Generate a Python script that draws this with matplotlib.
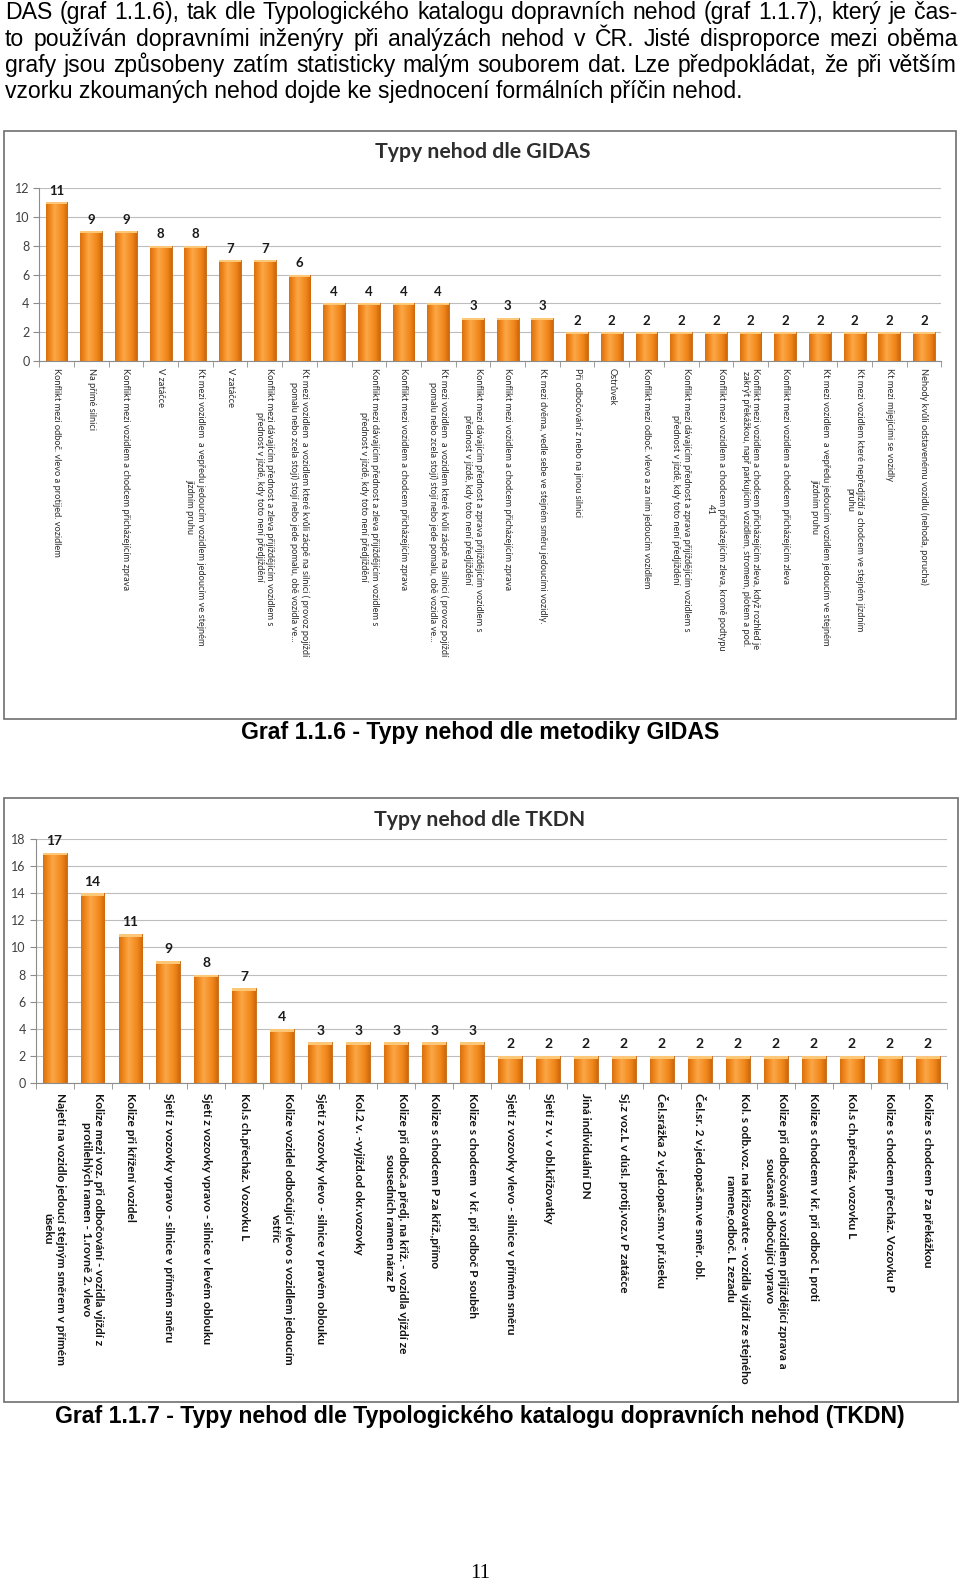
import numpy as np
import matplotlib.pyplot as plt
from matplotlib.patches import Rectangle
from matplotlib.colors import LinearSegmentedColormap

# ============================================================
# Data
# ============================================================
gidas_labels = [
    "Konflikt mezi odboč. vlevo a protijed. vozidlem",
    "Na přímé silnici",
    "Konflikt mezi vozidlem a chodcem přicházejícím zprava",
    "V zatáčce",
    "Kt mezi vozidlem  a vepředu jedoucím vozidlem jedoucím ve stejném\njízdním pruhu",
    "V zatáčce",
    "Konflikt mezi dávajícím přednost a zleva přijíždějícím vozidlem s\npřednost v jízdě, kdy toto není předjíždění",
    "Kt mezi vozidlem  a vozidlem které kvůli zácpě na silnici ( provoz pojíždí\npomalu nebo zcela stojí) stojí nebo jede pomalu, obě vozidla ve...",
    "",
    "Konflikt mezi dávajícím přednost a zleva přijíždějícím vozidlem s\npřednost v jízdě, kdy toto není předjíždění",
    "Konflikt mezi vozidlem a chodcem přicházejícím zprava",
    "Kt mezi vozidlem  a vozidlem které kvůli zácpě na silnici ( provoz pojíždí\npomalu nebo zcela stojí) stojí nebo jede pomalu, obě vozidla ve...",
    "Konflikt mezi dávajícím přednost a zprava přijíždějícím vozidlem s\npřednost v jízdě, kdy toto není předjíždění",
    "Konflikt mezi vozidlem a chodcem přicházejícím zprava",
    "Kt mezi dvěma, vedle sebe ve stejném směru jedoucími vozidly.",
    "Při odbočování z nebo na jinou silnici",
    "Ostrůvek",
    "Konflikt mezi odboč. vlevo a za ním jedoucím vozidlem",
    "Konflikt mezi dávajícím přednost a zprava přijíždějícím vozidlem s\npřednost v jízdě, kdy toto není předjíždění",
    "Konflikt mezi vozidlem a chodcem přicházejícím zleva, kromě podtypu\n41",
    "Konflikt mezi vozidlem a chodcem přicházejícím zleva, když rozhled je\nzakrýt překážkou, např parkujícím vozidlem, stromem, plotem a pod.",
    "Konflikt mezi vozidlem a chodcem přicházejícím zleva",
    "Kt mezi vozidlem  a vepředu jedoucím vozidlem jedoucím ve stejném\njízdním pruhu",
    "Kt mezi vozidlem které nepředjíždí a chodcem ve stejném jízdním\npruhu",
    "Kt mezi míjejícími se vozidly",
    "Nehody kvůli odstavenému vozidlu (nehoda, porucha)",
]
gidas_values = [11, 9, 9, 8, 8, 7, 7, 6, 4, 4, 4, 4, 3, 3, 3,
                2, 2, 2, 2, 2, 2, 2, 2, 2, 2, 2]

tkdn_labels = [
    "Najetí na vozidlo jedoucí stejným směrem v přímém\núseku",
    "Kolize mezi voz. při odbočování - vozidla vjíždí z\nprotilehlých ramen - 1.rovně 2. vlevo",
    "Kolize při křížení vozidel",
    "Sjetí z vozovky vpravo - silnice v přímém směru",
    "Sjetí z vozovky vpravo - silnice v levém oblouku",
    "Kol.s ch.přecház. Vozovku L",
    "Kolize vozidel odbočující vlevo s vozidlem jedoucím\nvstříc",
    "Sjetí z vozovky vlevo - silnice v pravém oblouku",
    "Kol.2 v. -vyjížd.od okr.vozovky",
    "Kolize při odboč.a předj. na křiž. - vozidla vjíždí ze\nsousedních ramen náraz P",
    "Kolize s chodcem P za křiž.,přímo",
    "Kolize s chodcem  v kř. při odboč P souběh",
    "Sjetí z vozovky vlevo - silnice v přímém směru",
    "Sjetí z v. v obl.křižovatky",
    "Jiná individuální DN",
    "Sj.z voz.L v dúsl. protij.voz.v P zatáčce",
    "Čel.srážka 2 v.jed.opač.sm.v př.úseku",
    "Čel.sr. 2 v.jed.opač.sm.ve směr. obl.",
    "Kol. s odb.voz. na křižovatce - vozidla vjíždí ze stejného\nramene,odboč. L zezadu",
    "Kolize při odbočování s vozidlem přijíždějící zprava a\nsoučasně odbočující vpravo",
    "Kolize s chodcem v kř. při odboč L proti",
    "Kol.s ch.přecház. vozovku L",
    "Kolize s chodcem přecház. Vozovku P",
    "Kolize s chodcem P za překážkou",
]
tkdn_values = [17, 14, 11, 9, 8, 7, 4, 3, 3, 3, 3, 3,
               2, 2, 2, 2, 2, 2, 2, 2, 2, 2, 2, 2]

paragraph = [
    "DAS (graf 1.1.6), tak dle Typologického katalogu dopravních nehod (graf 1.1.7), který je čas-",
    "to používán dopravními inženýry při analýzách nehod v ČR. Jisté disproporce mezi oběma",
    "grafy jsou způsobeny zatím statisticky malým souborem dat. Lze předpokládat, že při větším",
    "vzorku zkoumaných nehod dojde ke sjednocení formálních příčin nehod.",
]

W, H = 960, 1585
fig = plt.figure(figsize=(W / 100, H / 100), dpi=100)
fig.patch.set_facecolor('white')


def fx(x):
    return x / W


def fy(y):
    return 1 - y / H


bar_cmap = LinearSegmentedColormap.from_list(
    'bar', ['#D9700E', '#F28A1E', '#FBA748', '#F7962E', '#EE8418', '#CF680C'])
grad = np.linspace(0, 1, 64).reshape(1, -1)


def draw_chart(ax, labels, values, ymax, label_size, label_weight, label_color, value_size, pad, lsp):
    x = np.arange(len(values))
    bars = ax.bar(x, values, width=0.63, color='#F7962E', edgecolor='#C0650F', linewidth=0.6, zorder=2)
    for b in bars:
        im = ax.imshow(grad, cmap=bar_cmap, aspect='auto', zorder=2.5,
                       extent=(b.get_x(), b.get_x() + b.get_width(), 0, b.get_height()))
        im.set_clip_path(b)
        # light cap on top of each bar
        ax.add_patch(Rectangle((b.get_x(), b.get_height() - ymax * 0.012), b.get_width(),
                               ymax * 0.012, color='#FCC777', lw=0, zorder=2.6))
    for xi, v in zip(x, values):
        ax.annotate(str(v), (xi, v), xytext=(0, 4), textcoords='offset points',
                    ha='center', va='bottom', fontsize=value_size, fontweight='bold',
                    family='Lato', color='#1a1a1a')
    ax.set_xlim(-0.5, len(values) - 0.5)
    ax.set_ylim(0, ymax)
    ax.set_yticks(np.arange(0, ymax + 1, 2))
    ax.yaxis.grid(True, color='#BDBDBD', lw=0.8, zorder=0)
    ax.set_axisbelow(True)
    ax.set_xticks(x)
    ax.set_xticklabels(labels, rotation=-90, ha='center', va='top', multialignment='center',
                       fontsize=label_size, fontweight=label_weight, color=label_color, family='Lato',
                       linespacing=lsp)
    ax.set_xticks(np.arange(-0.5, len(values)), minor=True)
    ax.tick_params(axis='x', which='major', length=0, pad=pad)
    ax.tick_params(axis='x', which='minor', length=4, color='#8C8C8C')
    ax.tick_params(axis='y', length=4, color='#8C8C8C', labelsize=9, labelcolor='#404040', pad=3)
    for lab in ax.get_yticklabels():
        lab.set_family('Lato')
    for s in ['top', 'right']:
        ax.spines[s].set_visible(False)
    for s in ['left', 'bottom']:
        ax.spines[s].set_color('#8C8C8C')
        ax.spines[s].set_linewidth(0.8)


# ============================================================
# Paragraph at the top (justified)
# ============================================================
renderer = fig.canvas.get_renderer()
x_left, x_right = 5, 957
line_base = [19, 46, 72, 98]
psize = 16.6
for i, (line, yy) in enumerate(zip(paragraph, line_base)):
    if i == len(paragraph) - 1:
        fig.text(fx(x_left), fy(yy), line, fontsize=psize, family='Liberation Sans', va='baseline')
        continue
    words = line.split(' ')
    texts = [fig.text(0, fy(yy), w, fontsize=psize, family='Liberation Sans', va='baseline')
             for w in words]
    widths = [t.get_window_extent(renderer).width for t in texts]
    gap = (x_right - x_left - sum(widths)) / (len(words) - 1)
    xp = x_left
    for t, wdt in zip(texts, widths):
        t.set_x(fx(xp))
        xp += wdt + gap

# ============================================================
# Chart 1 - GIDAS
# ============================================================
fig.patches.append(Rectangle((fx(4), fy(719)), fx(952), (719 - 131) / H, transform=fig.transFigure,
                             fill=False, edgecolor='#6E6E6E', lw=1.2))
fig.text(fx(483), fy(152), 'Typy nehod dle GIDAS', ha='center', va='center', fontsize=15.3,
         fontweight='bold', family='Lato', color='#2e2e2e')
ax1 = fig.add_axes([fx(39.2), fy(361), fx(902.2), 173 / H])
draw_chart(ax1, gidas_labels, gidas_values, 12, 6.7, 'normal', '#2b2b2b', 9.5, 5, 1.2)
fig.text(fx(480), fy(733), 'Graf 1.1.6 - Typy nehod dle metodiky GIDAS', ha='center', va='center',
         fontsize=16.6, fontweight='bold', family='Liberation Sans')

# ============================================================
# Chart 2 - TKDN
# ============================================================
fig.patches.append(Rectangle((fx(4), fy(1402)), fx(954), (1402 - 798) / H, transform=fig.transFigure,
                             fill=False, edgecolor='#6E6E6E', lw=1.2))
fig.text(fx(480), fy(820), 'Typy nehod dle TKDN', ha='center', va='center', fontsize=15.3,
         fontweight='bold', family='Lato', color='#2e2e2e')
ax2 = fig.add_axes([fx(35.6), fy(1083), fx(911), 244 / H])
draw_chart(ax2, tkdn_labels, tkdn_values, 18, 8.6, 'bold', '#111111', 10, 7, 1.2)
fig.text(fx(480), fy(1416), 'Graf 1.1.7 - Typy nehod dle Typologického katalogu dopravních nehod (TKDN)',
         ha='center', va='center', fontsize=16.6, fontweight='bold', family='Liberation Sans')

fig.text(fx(480), fy(1573), '11', ha='center', va='center', fontsize=15, family='Liberation Serif')

fig.savefig('out.png', dpi=100, facecolor='white')
